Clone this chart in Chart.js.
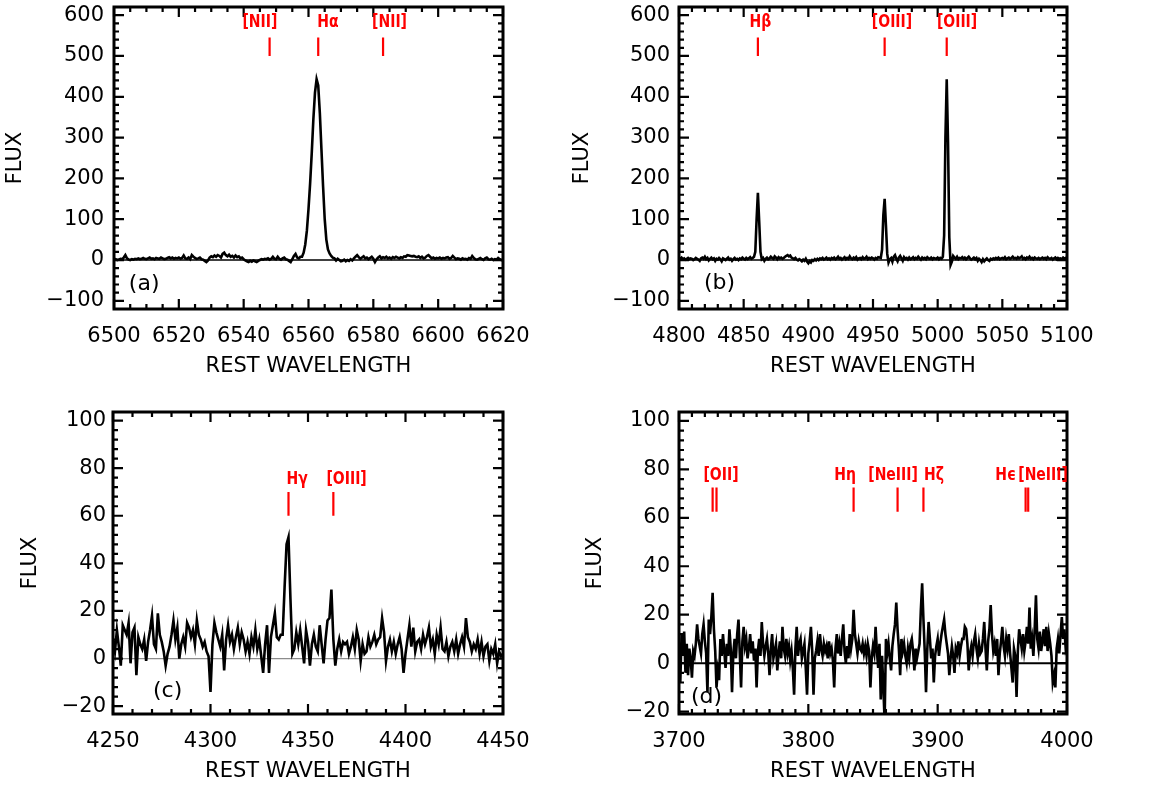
<!DOCTYPE html>
<html>
<head>
<meta charset="utf-8">
<script src="https://cdn.jsdelivr.net/npm/chart.js@4.4.0/dist/chart.umd.min.js"></script>
<style>
  html, body { margin: 0; padding: 0; background: #fff; }
  #wrap { position: relative; width: 1162px; height: 787px; }
  canvas { position: absolute; }
</style>
</head>
<body>
<div id="wrap">
  <canvas id="pa" width="570" height="392" style="left:0;top:0"></canvas>
  <canvas id="pb" width="592" height="392" style="left:570px;top:0"></canvas>
  <canvas id="pc" width="570" height="395" style="left:0;top:392px"></canvas>
  <canvas id="pd" width="592" height="395" style="left:570px;top:392px"></canvas>
</div>
<script>
// (a) H-alpha region, 0.5 A sampling
const waveA0 = 6500, waveAStep = 0.5;
const fluxA = [
  1,2,0,1,3,2,6,12,4,1,0,2,1,3,2,4,2,3,5,3,
  2,4,6,3,4,2,5,4,3,6,4,2,3,5,7,4,6,3,5,4,
  6,3,5,11,4,3,6,2,12,8,5,3,4,6,2,1,-2,-5,-1,6,
  9,7,11,8,12,10,6,15,18,12,9,13,8,10,6,11,7,9,4,6,
  2,-1,-3,-5,-2,-4,-1,-3,-5,-2,0,2,1,3,2,4,1,3,8,3,
  2,8,3,1,4,6,2,1,-2,-5,2,10,15,6,4,8,8,18,38,72,
  125,188,262,345,410,443,428,360,270,180,100,50,26,16,10,6,4,-1,3,0,
  -3,-2,1,-3,0,-2,2,-1,4,8,12,7,3,6,9,4,6,2,5,8,
  3,-5,2,6,9,4,7,5,8,4,6,3,7,5,8,6,4,7,5,9,
  8,12,11,10,9,10,8,7,9,5,8,4,6,10,12,8,4,6,3,5,
  4,6,3,5,4,6,7,3,5,10,6,2,4,3,1,4,2,3,1,5,
  3,10,5,2,1,3,5,2,0,4,6,2,1,3,0,2,1,5,2,0,
  1
];

// (b) H-beta / [OIII] region, 1 A sampling
const waveB0 = 4800, waveBStep = 1;
const fluxB = [
  5,3,6,2,4,1,3,5,2,4,3,0,2,5,3,1,-2,4,6,3,
  8,2,5,-1,3,6,2,4,-2,3,1,5,2,-3,4,2,0,3,6,1,
  3,-2,2,5,1,3,0,4,2,6,3,1,5,2,4,7,3,5,8,20,
  100,165,95,20,2,5,-2,3,6,2,4,8,5,3,9,6,2,7,4,6,
  3,5,8,10,12,9,11,6,4,2,5,1,-1,2,0,-3,1,-2,3,-4,
  -8,-3,-6,0,-2,2,-1,3,0,4,2,5,1,3,6,2,4,1,5,3,
  6,2,4,8,3,5,1,4,7,2,5,3,9,4,2,6,3,7,1,4,
  5,2,7,3,4,8,2,5,3,6,4,1,5,3,7,6,5,25,110,150,
  85,15,-6,2,5,-4,8,12,3,-3,6,10,4,-2,7,3,5,1,6,2,
  4,7,2,5,3,8,4,1,6,3,5,2,7,4,3,6,2,5,4,3,
  6,2,5,3,8,60,300,443,290,55,-12,-4,10,6,3,8,2,5,4,7,
  3,6,2,5,8,4,1,3,6,2,5,-2,3,0,-5,2,-3,1,4,0,
  -2,3,1,4,2,5,3,6,2,4,5,3,7,2,4,6,3,5,8,4,
  5,3,7,4,6,9,3,5,2,6,4,8,3,5,2,6,4,3,5,2,
  4,6,3,5,2,7,4,3,5,1,4,6,2,5,3,4,2,6,3,5,
  4
];

// (c) H-gamma region, 1 A sampling
const waveC0 = 4250, waveCStep = 1;
const fluxC = [
  8,3,12,5,-3,14,12,10,15,-2,11,13,-7,9,6,4,8,-1,7,12,
  18,6,4,19,10,7,3,-3,2,5,10,16,8,13,0,6,9,5,15,13,
  9,12,6,16,10,8,5,7,3,1,-14,6,15,11,8,5,10,-5,8,14,
  7,10,4,9,13,6,11,8,3,7,2,9,5,12,4,8,1,-6,6,14,
  -6,9,14,19,9,8,10,10,30,48,51,25,2,4,11,6,12,5,-2,12,
  7,-3,6,10,5,3,14,6,-2,8,16,17,29,8,-3,4,8,3,7,6,
  7,2,5,9,4,12,8,-1,6,2,3,9,5,7,10,6,8,9,17,11,
  -1,5,8,3,7,2,6,9,4,-6,2,8,14,5,13,3,7,8,4,10,
  6,9,13,5,8,2,10,6,13,4,3,7,1,5,7,3,8,2,6,9,
  5,17,9,7,3,6,4,8,2,7,1,5,6,-1,4,2,6,-2,3,1,
  2
];

// (d) [OII] / high Balmer region, 1 A sampling
const waveD0 = 3700, waveDStep = 1;
const fluxD = [
  5,-8,12,3,13,-4,8,-5,6,2,-6,5,3,8,16,10,7,4,12,16,
  9,4,-12,18,12,19,29,14,5,-10,-3,-7,10,3,12,5,-2,8,3,14,
  6,-12,4,10,2,12,18,4,-10,9,15,7,10,2,6,12,4,9,1,6,
  -10,5,10,3,17,8,3,7,10,4,-5,6,12,2,5,8,-3,4,9,2,
  15,6,3,10,4,7,1,5,-2,-13,6,15,3,8,10,2,5,8,-2,-13,
  4,9,15,5,-13,2,5,9,3,12,6,3,8,5,7,2,9,4,6,1,
  -10,6,12,4,8,3,10,16,5,0,7,2,12,6,10,22,12,8,4,9,
  6,5,8,4,7,3,8,5,-10,2,7,4,15,5,-2,8,-15,3,-10,-24,
  10,4,8,2,-3,7,12,16,25,14,6,-5,10,5,8,3,0,6,2,8,
  10,5,-3,6,2,5,8,22,33,18,5,-12,6,17,10,2,6,-8,3,7,
  10,3,8,12,15,18,12,8,4,-5,2,7,3,-4,6,4,9,3,7,10,
  10,15,14,8,-3,4,7,3,9,12,6,2,8,4,5,10,17,6,-3,9,
  14,24,12,5,8,3,10,-5,4,9,15,7,3,10,6,12,4,-2,-8,6,
  3,-14,5,14,10,6,12,5,9,15,8,23,6,10,3,14,28,10,6,13,
  5,9,14,7,15,5,12,8,3,-8,-5,-10,6,10,4,12,19,10,14,6,
  8
];

// tick labels
const xTicksA = [6500, 6520, 6540, 6560, 6580, 6600, 6620];
const yTicksA = [-100, 0, 100, 200, 300, 400, 500, 600];
const xTicksB = [4800, 4850, 4900, 4950, 5000, 5050, 5100];
const yTicksB = [-100, 0, 100, 200, 300, 400, 500, 600];
const xTicksC = [4250, 4300, 4350, 4400, 4450];
const yTicksC = [-20, 0, 20, 40, 60, 80, 100];
const xTicksD = [3700, 3800, 3900, 4000];
const yTicksD = [-20, 0, 20, 40, 60, 80, 100];

// line identifications (wavelengths of the red marks, label texts and label centres)
const linesA = [6548, 6563, 6583];
const namesA = ['[NII]', 'H\u03b1', '[NII]'];
const nameXA = [6545, 6566, 6585];
const linesB = [4861, 4959, 5007];
const namesB = ['H\u03b2', '[OIII]', '[OIII]'];
const nameXB = [4863, 4964.7, 5015];
const linesC = [4340, 4363];
const namesC = ['H\u03b3', '[OIII]'];
const nameXC = [4344.4, 4369.8];
const linesD = [3726, 3729, 3835, 3869, 3889, 3968, 3970];
const namesD = ['[OII]', 'H\u03b7', '[NeIII]', 'H\u03b6', 'H\u03f5', '[NeIII]'];
const nameXD = [3732.5, 3828.4, 3865.5, 3897.2, 3952.5, 3981.5];

const FONT = '"DejaVu Sans", sans-serif';
const minus = v => String(v).replace('-', '\u2212');

function deco(p) {
  return {
    id: 'deco',
    beforeDatasetsDraw(chart) {
      const {ctx, chartArea: a, scales: {y}} = chart;
      const py = y.getPixelForValue(0);
      ctx.save();
      ctx.strokeStyle = p.zeroColor;
      ctx.lineWidth = p.zeroWidth;
      ctx.beginPath();
      ctx.moveTo(a.left, py);
      ctx.lineTo(a.right, py);
      ctx.stroke();
      ctx.restore();
    },
    afterDatasetsDraw(chart) {
      const {ctx, chartArea: a, scales: {x, y}} = chart;
      ctx.save();
      // frame
      ctx.strokeStyle = '#000';
      ctx.lineWidth = 3;
      ctx.strokeRect(a.left, a.top, a.right - a.left, a.bottom - a.top);
      // inward ticks on all four sides
      ctx.lineWidth = 2.2;
      ctx.beginPath();
      const isMajor = (v, m) => Math.abs(v / m - Math.round(v / m)) < 1e-6;
      for (let v = Math.ceil(x.min / p.xMinor) * p.xMinor; v <= x.max + 1e-9; v += p.xMinor) {
        const px = x.getPixelForValue(v);
        const len = isMajor(v, p.xMajor) ? 10 : 5;
        ctx.moveTo(px, a.bottom); ctx.lineTo(px, a.bottom - len);
        ctx.moveTo(px, a.top); ctx.lineTo(px, a.top + len);
      }
      for (let v = Math.ceil(y.min / p.yMinor) * p.yMinor; v <= y.max + 1e-9; v += p.yMinor) {
        const py = y.getPixelForValue(v);
        const len = isMajor(v, p.yMajor) ? 10 : 5;
        ctx.moveTo(a.left, py); ctx.lineTo(a.left + len, py);
        ctx.moveTo(a.right, py); ctx.lineTo(a.right - len, py);
      }
      ctx.stroke();
      // red line marks
      ctx.strokeStyle = '#ff0000';
      ctx.lineWidth = 2.2;
      ctx.beginPath();
      p.lines.forEach(w => {
        const px = x.getPixelForValue(w);
        ctx.moveTo(px, y.getPixelForValue(p.markY[0]));
        ctx.lineTo(px, y.getPixelForValue(p.markY[1]));
      });
      ctx.stroke();
      // labels: tall, narrow bold lettering like the original
      ctx.fillStyle = '#ff0000';
      ctx.font = 'bold 14px ' + FONT;
      ctx.textAlign = 'center';
      ctx.textBaseline = 'middle';
      p.names.forEach((t, i) => {
        ctx.save();
        ctx.translate(x.getPixelForValue(p.nameX[i]), y.getPixelForValue(p.nameY));
        ctx.scale(1, 1.3);
        ctx.fillText(t, 0, 0);
        ctx.restore();
      });
      // panel tag
      ctx.fillStyle = '#000';
      ctx.font = '22px ' + FONT;
      ctx.fillText(p.tag, x.getPixelForValue(p.tagX), y.getPixelForValue(p.tagY));
      ctx.restore();
    }
  };
}

function panel(id, p) {
  const pts = p.flux.map((f, i) => ({x: p.wave0 + i * p.step, y: f}));
  new Chart(document.getElementById(id), {
    type: 'line',
    data: {
      datasets: [{
        data: pts,
        borderColor: '#000',
        borderWidth: 2.6,
        pointRadius: 0,
        tension: 0,
        fill: false
      }]
    },
    options: {
      responsive: false,
      animation: false,
      events: [],
      layout: { padding: { left: 0, top: p.top, right: p.right, bottom: p.bottom } },
      plugins: { legend: { display: false }, tooltip: { enabled: false } },
      scales: {
        x: {
          type: 'linear',
          min: p.xTicks[0],
          max: p.xTicks[p.xTicks.length - 1],
          grid: { display: false, drawTicks: false },
          border: { display: false },
          afterBuildTicks: s => { s.ticks = p.xTicks.map(v => ({value: v})); },
          afterFit: s => { s.height = 72; s.paddingLeft = 0; s.paddingRight = 0; },
          ticks: { font: { family: FONT, size: 21 }, color: '#000', padding: 15,
                   maxRotation: 0, autoSkip: false, callback: v => minus(v) },
          title: { display: true, text: 'REST WAVELENGTH', color: '#000',
                   font: { family: FONT, size: 21 }, padding: { top: 0, bottom: 2 } }
        },
        y: {
          min: p.ymin,
          max: p.ymax,
          grid: { display: false, drawTicks: false },
          border: { display: false },
          afterBuildTicks: s => { s.ticks = p.yTicks.map(v => ({value: v})); },
          afterFit: s => { s.width = p.yWidth; s.paddingTop = 0; s.paddingBottom = 0; },
          ticks: { font: { family: FONT, size: 21 }, color: '#000', padding: p.yTickPad,
                   autoSkip: false, callback: v => minus(v) },
          title: { display: true, text: 'FLUX', color: '#000',
                   font: { family: FONT, size: 21 }, padding: { top: p.yTitlePad, bottom: 0 } }
        }
      }
    },
    plugins: [deco(p)]
  });
}

panel('pa', {
  wave0: waveA0, step: waveAStep, flux: fluxA, xTicks: xTicksA, yTicks: yTicksA,
  ymin: -120, ymax: 620, xMajor: 20, xMinor: 5, yMajor: 100, yMinor: 20,
  lines: linesA, names: namesA, nameX: nameXA, markY: [500, 545], nameY: 582,
  tag: '(a)', tagX: 6509.3, tagY: -59, zeroColor: '#000', zeroWidth: 1.5,
  top: 7, right: 67, bottom: 11, yWidth: 114, yTickPad: 10, yTitlePad: 3
});
panel('pb', {
  wave0: waveB0, step: waveBStep, flux: fluxB, xTicks: xTicksB, yTicks: yTicksB,
  ymin: -120, ymax: 620, xMajor: 50, xMinor: 10, yMajor: 100, yMinor: 20,
  lines: linesB, names: namesB, nameX: nameXB, markY: [500, 545], nameY: 582,
  tag: '(b)', tagX: 4831.3, tagY: -56, zeroColor: '#000', zeroWidth: 1.5,
  top: 7, right: 95, bottom: 11, yWidth: 109, yTickPad: 9, yTitlePad: 0
});
panel('pc', {
  wave0: waveC0, step: waveCStep, flux: fluxC, xTicks: xTicksC, yTicks: yTicksC,
  ymin: -23.3, ymax: 103.6, xMajor: 50, xMinor: 10, yMajor: 20, yMinor: 4,
  lines: linesC, names: namesC, nameX: nameXC, markY: [60, 70], nameY: 75.5,
  tag: '(c)', tagX: 4278, tagY: -13.7, zeroColor: '#8c8c8c', zeroWidth: 1.2,
  top: 20, right: 67, bottom: 1, yWidth: 113, yTickPad: 7, yTitlePad: 18
});
panel('pd', {
  wave0: waveD0, step: waveDStep, flux: fluxD, xTicks: xTicksD, yTicks: yTicksD,
  ymin: -21, ymax: 103.7, xMajor: 100, xMinor: 10, yMajor: 20, yMinor: 4,
  lines: linesD, names: namesD, nameX: nameXD, markY: [62.5, 72.5], nameY: 77.5,
  tag: '(d)', tagX: 3721.3, tagY: -14.2, zeroColor: '#000', zeroWidth: 2,
  top: 20, right: 95, bottom: 1, yWidth: 109, yTickPad: 9, yTitlePad: 13
});
</script>
</body>
</html>
